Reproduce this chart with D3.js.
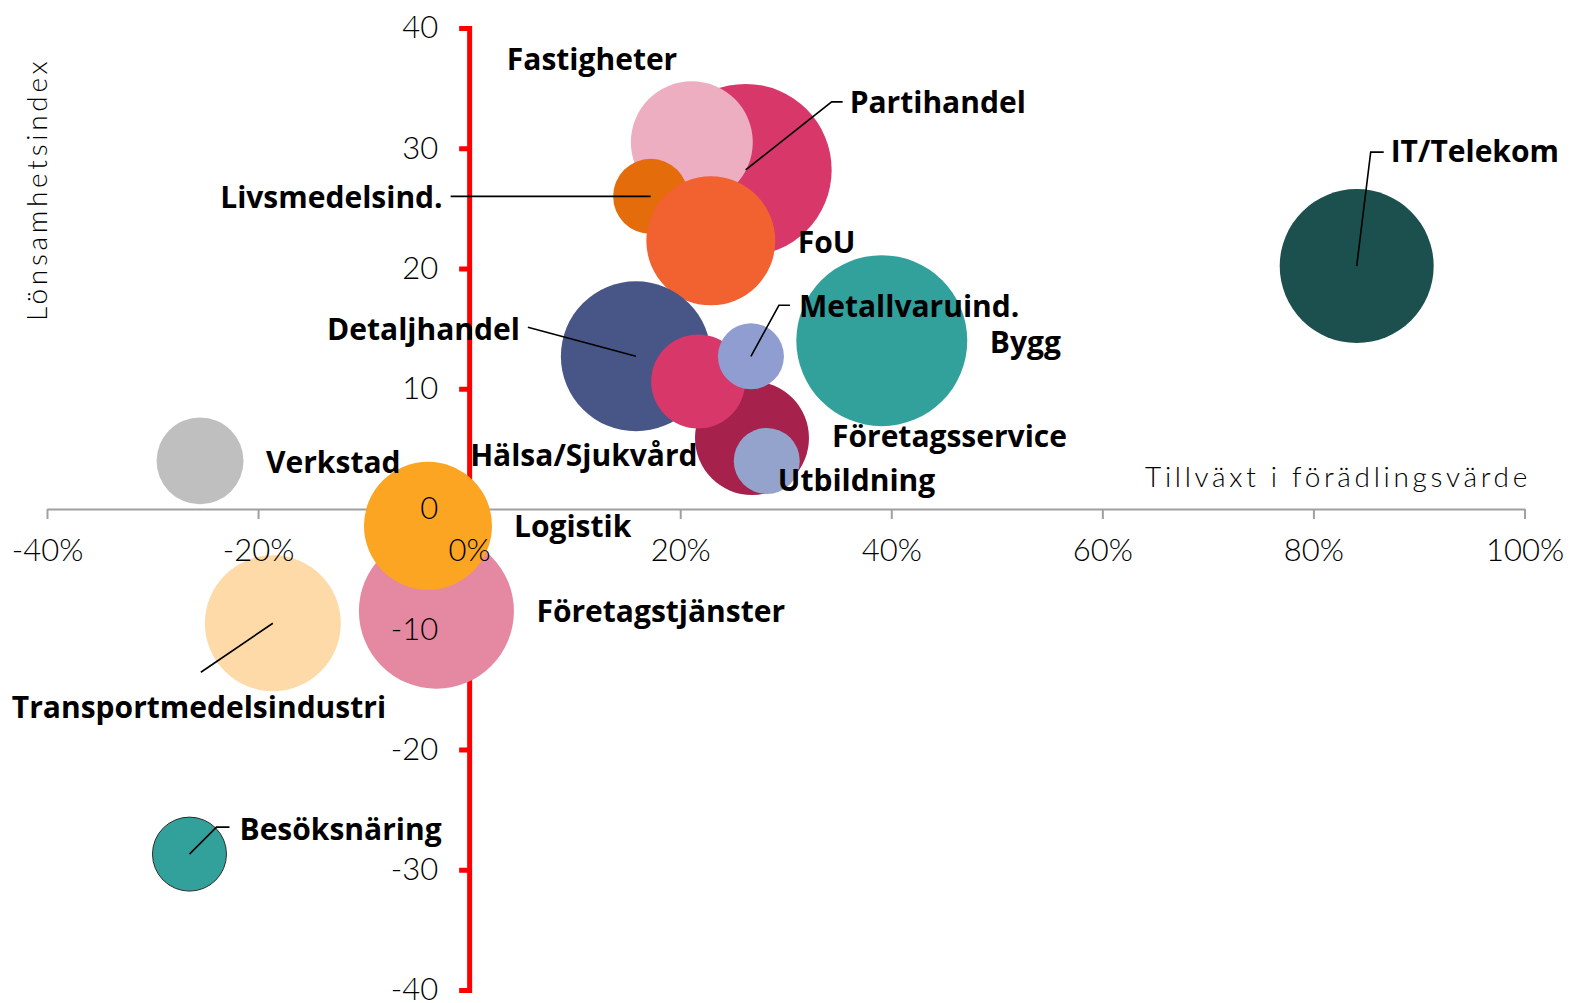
<!DOCTYPE html>
<html>
<head>
<meta charset="utf-8">
<script src="https://cdn.jsdelivr.net/npm/d3@7"></script>
<style>
  body { margin: 0; background: #fff; }
  svg { display: block; }
  .label { font-family: "Open Sans", sans-serif; font-weight: 700; font-size: 30px; fill: #000; }
  .tick text { font-family: Lato, sans-serif; font-weight: 300; font-size: 31px; fill: #000; }
  .axis-title { font-family: Lato, sans-serif; font-weight: 300; font-size: 28px; fill: #000; letter-spacing: 3.7px; }
</style>
</head>
<body>
<div id="chart"></div>
<script>
var svgWidth = 1570;
var svgHeight = 1003;

var margin = { top: 28, right: 45.5, bottom: 13, left: 47 };
var width = svgWidth - margin.left - margin.right;
var height = svgHeight - margin.top - margin.bottom;

// data, in drawing order (back to front)
var sectors = ["Partihandel", "Fastigheter", "Livsmedelsind.", "FoU", "Detaljhandel",
  "Företagsservice", "Hälsa/Sjukvård", "Metallvaruind.", "Utbildning", "Bygg",
  "IT/Telekom", "Verkstad", "Företagstjänster", "Logistik", "Transportmedelsindustri", "Besöksnäring"];
// Tillväxt i förädlingsvärde (%)
var growth = [26.2, 21.1, 17.2, 22.9, 15.8, 26.8, 21.7, 26.7, 28.2, 39.1, 84.1, -25.5, -3.1, -3.9, -18.6, -26.5];
// Lönsamhetsindex
var profit = [28.2, 30.5, 26.0, 22.3, 12.7, 5.9, 10.6, 12.7, 4.0, 14.0, 20.2, 4.0, -8.5, -1.4, -9.5, -28.7];
// bubble size
var bubbleSize = [74.0, 37.2, 14.1, 41.6, 56.3, 32.5, 22.1, 10.9, 10.9, 73.1, 59.3, 18.9, 60.1, 41.0, 46.2, 13.7];

var xTicks = [-40, -20, 0, 20, 40, 60, 80, 100];
var yTicks = [-40, -30, -20, -10, 0, 10, 20, 30, 40];

var colors = {
  "Partihandel": "#d73769", "Fastigheter": "#edaec1", "Livsmedelsind.": "#e46c0a",
  "FoU": "#f26130", "Detaljhandel": "#475686", "Företagsservice": "#a6214b",
  "Hälsa/Sjukvård": "#d73769", "Metallvaruind.": "#8f9dd1", "Utbildning": "#94a3cc",
  "Bygg": "#33a19b", "IT/Telekom": "#1c504f", "Verkstad": "#bfbfbf",
  "Företagstjänster": "#e588a2", "Logistik": "#fca522",
  "Transportmedelsindustri": "#fddaa8", "Besöksnäring": "#33a19b"
};

// label placement relative to bubble centre (px), plus leader line points
var labelLayout = {
  "Partihandel": { dx: 104, dy: -57, leader: [[86, -68], [97, -68]] },
  "Fastigheter": { dx: -185, dy: -72 },
  "Livsmedelsind.": { dx: -208, dy: 12, anchor: "end", leader: [[-200, 0]] },
  "FoU": { dx: 87, dy: 12 },
  "Detaljhandel": { dx: -116, dy: -16, anchor: "end", leader: [[-108, -29]] },
  "Företagsservice": { dx: 80, dy: 9 },
  "Hälsa/Sjukvård": { dx: -228, dy: 84 },
  "Metallvaruind.": { dx: 48, dy: -39, leader: [[28, -51], [39, -51]] },
  "Utbildning": { dx: 11, dy: 30 },
  "Bygg": { dx: 108, dy: 12 },
  "IT/Telekom": { dx: 34, dy: -104, leader: [[14, -114], [27, -114]] },
  "Verkstad": { dx: 66, dy: 12 },
  "Företagstjänster": { dx: 100, dy: 11 },
  "Logistik": { dx: 86, dy: 11 },
  "Transportmedelsindustri": { dx: -261, dy: 95, leader: [[-72, 49]] },
  "Besöksnäring": { dx: 50, dy: -14, leader: [[27, -27], [40, -27]] }
};

var data = sectors.map(function(s, i) {
  return { sector: s, growth: growth[i], profit: profit[i], size: bubbleSize[i] };
});

var svg = d3.select("#chart")
  .append("svg")
  .attr("width", svgWidth)
  .attr("height", svgHeight);

var chartGroup = svg.append("g")
  .attr("transform", `translate(${margin.left}, ${margin.top})`);

var xLinearScale = d3.scaleLinear().domain([-40, 100]).range([0, width]);
var yLinearScale = d3.scaleLinear().domain([-40, 40]).range([height, 0]);
var rScale = d3.scaleSqrt().domain([0, d3.max(bubbleSize)]).range([0, 86]);

// axis lines (below bubbles)
var xAxisLines = chartGroup.append("g")
  .attr("transform", `translate(0, ${yLinearScale(0)})`)
  .call(d3.axisBottom(xLinearScale).tickValues(xTicks).tickSize(10).tickSizeOuter(0).tickFormat(""));
xAxisLines.selectAll("path, line").attr("stroke", "#a0a0a0").attr("stroke-width", 2);

var yAxisLines = chartGroup.append("g")
  .attr("transform", `translate(${xLinearScale(0)}, 0)`)
  .call(d3.axisLeft(yLinearScale).tickValues(yTicks).tickSize(10).tickSizeOuter(0).tickFormat(""));
yAxisLines.selectAll("path, line").attr("stroke", "#ff0000").attr("stroke-width", 5);
yAxisLines.select("path").attr("stroke-linecap", "square");

// bubbles
chartGroup.selectAll("circle")
  .data(data)
  .enter()
  .append("circle")
  .attr("cx", d => xLinearScale(d.growth))
  .attr("cy", d => yLinearScale(d.profit))
  .attr("r", d => rScale(d.size))
  .attr("fill", d => colors[d.sector])
  .attr("stroke", d => d.sector === "Besöksnäring" ? "#2b2b2b" : "none")
  .attr("stroke-width", 1);

// tick labels (above bubbles)
var xAxisText = chartGroup.append("g")
  .attr("transform", `translate(0, ${yLinearScale(0)})`)
  .call(d3.axisBottom(xLinearScale).tickValues(xTicks).tickSize(10).tickFormat(d => d + "%"));
xAxisText.select("path").remove();
xAxisText.selectAll("line").remove();
xAxisText.selectAll("text").attr("y", 52).attr("dy", 0);

var yAxisText = chartGroup.append("g")
  .attr("transform", `translate(${xLinearScale(0)}, 0)`)
  .call(d3.axisLeft(yLinearScale).tickValues(yTicks).tickSize(10).tickPadding(21).tickFormat(d => String(d)));
yAxisText.select("path").remove();
yAxisText.selectAll("line").remove();

// leader lines
var line = d3.line();
chartGroup.selectAll(".leader")
  .data(data.filter(d => labelLayout[d.sector].leader))
  .enter()
  .append("path")
  .classed("leader", true)
  .attr("d", function(d) {
    var cx = xLinearScale(d.growth), cy = yLinearScale(d.profit);
    var pts = [[cx, cy]].concat(labelLayout[d.sector].leader.map(p => [cx + p[0], cy + p[1]]));
    return line(pts);
  })
  .attr("fill", "none")
  .attr("stroke", "#000")
  .attr("stroke-width", 1.6);

// labels
chartGroup.selectAll(".label")
  .data(data)
  .enter()
  .append("text")
  .classed("label", true)
  .attr("x", d => xLinearScale(d.growth) + labelLayout[d.sector].dx)
  .attr("y", d => yLinearScale(d.profit) + labelLayout[d.sector].dy)
  .attr("text-anchor", d => labelLayout[d.sector].anchor || "start")
  .text(d => d.sector);

// axis titles
svg.append("text")
  .classed("axis-title", true)
  .attr("x", 1531)
  .attr("y", 487)
  .attr("text-anchor", "end")
  .text("Tillväxt i förädlingsvärde");

svg.append("text")
  .classed("axis-title", true)
  .attr("transform", "translate(47, 321) rotate(-90)")
  .text("Lönsamhetsindex");
</script>
</body>
</html>
